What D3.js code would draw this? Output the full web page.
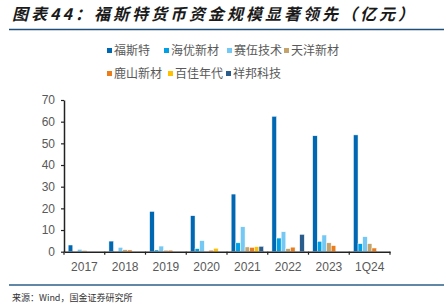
<!DOCTYPE html>
<html>
<head>
<meta charset="utf-8">
<script src="https://cdn.jsdelivr.net/npm/d3@7"></script>
<style>
  body { margin: 0; background: #fff; }
  svg { display: block; }
</style>
</head>
<body>
<svg id="chart"></svg>
<script>
// Set data
const categories = ["2017", "2018", "2019", "2020", "2021", "2022", "2023", "1Q24"];
const seriesNames = ["福斯特", "海优新材", "赛伍技术", "天洋新材", "鹿山新材", "百佳年代", "祥邦科技"];
const seriesColors = ["#0068B3", "#00A0E6", "#74C8F3", "#C4A46C", "#EC7C1A", "#FFC000", "#2B5D8C"];

const fosterValues  = [3.1, 4.9, 18.6, 16.6, 26.6, 62.5, 53.5, 53.9];
const haiyouValues  = [0, 0, 0.8, 1.4, 4.1, 6.3, 4.8, 3.7];
const saiwuValues   = [1.1, 2.0, 2.6, 5.1, 11.5, 9.2, 7.7, 6.9];
const tianyangValues = [0.6, 0.9, 0.7, 0, 2.2, 1.4, 4.1, 3.7];
const lushanValues  = [0, 0.8, 0.7, 0.7, 2.0, 2.1, 2.8, 1.7];
const baijiaValues  = [0, 0, 0, 1.6, 2.3, 0, 0, 0];
const xiangbangValues = [0, 0, 0, 0, 2.5, 8.0, 0, 0];
const yTicks = [0, 10, 20, 30, 40, 50, 60, 70];

const seriesValues = [fosterValues, haiyouValues, saiwuValues, tianyangValues,
                      lushanValues, baijiaValues, xiangbangValues];

// Set width and height
const width = 444;
const height = 305;
const plot = {left: 64, right: 390, top: 100, bottom: 251.7};

const svg = d3.select("#chart")
    .attr("width", width)
    .attr("height", height);

// title and frame lines
svg.append("text")
    .attr("x", 12).attr("y", 20)
    .attr("font-family", "'Noto Sans CJK SC', sans-serif")
    .attr("font-size", 16)
    .attr("font-style", "italic")
    .attr("font-weight", 600)
    .attr("letter-spacing", 3.0)
    .attr("fill", "#1a1a1a")
    .text("图表44：福斯特货币资金规模显著领先（亿元）");

svg.append("line")
    .attr("x1", 9).attr("x2", width).attr("y1", 29.5).attr("y2", 29.5)
    .attr("stroke", "#1F4E79").attr("stroke-width", 1.6);

svg.append("line")
    .attr("x1", 9).attr("x2", width).attr("y1", 285).attr("y2", 285)
    .attr("stroke", "#2C5F8A").attr("stroke-width", 1.6);

svg.append("text")
    .attr("x", 12).attr("y", 301)
    .attr("font-family", "'Noto Sans CJK SC', sans-serif")
    .attr("font-size", 9)
    .attr("fill", "#333")
    .text("来源：Wind，国金证券研究所");

// scales
const x0 = d3.scaleBand()
    .domain(categories)
    .range([plot.left, plot.right])
    .padding(0);

const x1 = d3.scaleBand()
    .domain(seriesNames)
    .range([0, x0.bandwidth()])
    .paddingInner(0)
    .paddingOuter(0.9);

const y = d3.scaleLinear()
    .domain([0, 70])
    .range([plot.bottom, plot.top]);

const color = d3.scaleOrdinal()
    .domain(seriesNames)
    .range(seriesColors);

// bars
const rows = [];
categories.forEach(function(c, i){
    seriesNames.forEach(function(s, j){
        rows.push({cat: c, name: s, value: seriesValues[j][i]});
    });
});

svg.append("g")
    .selectAll("rect")
    .data(rows.filter(d => d.value > 0))
    .join("rect")
    .attr("x", d => x0(d.cat) + x1(d.name))
    .attr("y", d => y(d.value))
    .attr("width", x1.bandwidth())
    .attr("height", d => y(0) - y(d.value))
    .attr("fill", d => color(d.name))
    .attr("stroke", "#fff")
    .attr("stroke-width", 0.5);

// y axis
const yAxis = svg.append("g")
    .attr("transform", "translate(" + plot.left + ",0)")
    .call(d3.axisLeft(y).tickValues(yTicks).tickSize(3).tickSizeOuter(0));
yAxis.select(".domain").attr("stroke", "#222").attr("stroke-width", 1.5);
yAxis.selectAll(".tick line").attr("stroke", "#222").attr("stroke-width", 1.2);
yAxis.selectAll(".tick text")
    .attr("x", -9)
    .attr("font-family", "'Liberation Sans', Arial, sans-serif")
    .attr("font-size", 12)
    .attr("fill", "#595959");

// x axis
const xAxis = svg.append("g")
    .attr("transform", "translate(0," + plot.bottom + ")")
    .call(d3.axisBottom(x0).tickSize(0).tickSizeOuter(0));
xAxis.select(".domain").attr("stroke", "#222").attr("stroke-width", 1.5);
xAxis.selectAll(".tick text")
    .attr("y", 11)
    .attr("font-family", "'Liberation Sans', Arial, sans-serif")
    .attr("font-size", 12)
    .attr("fill", "#595959");

const boundaries = categories.map(c => x0(c)).concat([plot.right]);
xAxis.selectAll(".bound")
    .data(boundaries)
    .join("line")
    .attr("class", "bound")
    .attr("x1", d => d).attr("x2", d => d)
    .attr("y1", 0).attr("y2", 3)
    .attr("stroke", "#222").attr("stroke-width", 1.2);

// legend
const legendPos = [[107, 51], [164, 51], [227, 51], [284, 51],
                   [107, 74], [168, 74], [226, 74]];
const legend = svg.append("g")
    .selectAll("g")
    .data(seriesNames)
    .join("g")
    .attr("transform", (d, i) => "translate(" + legendPos[i][0] + "," + legendPos[i][1] + ")");

legend.append("rect")
    .attr("x", 0).attr("y", -3)
    .attr("width", 5).attr("height", 5)
    .attr("fill", d => color(d));

legend.append("text")
    .attr("x", 7).attr("y", 4)
    .attr("font-family", "'Noto Sans CJK SC', sans-serif")
    .attr("font-size", 12)
    .attr("fill", "#595959")
    .text(d => d);
</script>
</body>
</html>
